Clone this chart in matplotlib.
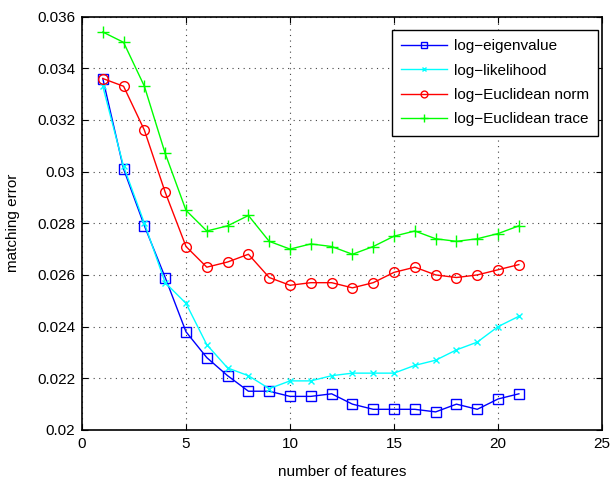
import matplotlib
matplotlib.use("Agg")
import matplotlib.pyplot as plt

plt.rcParams["font.family"] = ["Liberation Sans", "DejaVu Sans"]

n_features = list(range(1, 22))

log_eigenvalue = [0.0336, 0.0301, 0.0279, 0.0259, 0.0238, 0.0228, 0.0221, 0.0215,
                  0.0215, 0.0213, 0.0213, 0.0214, 0.0210, 0.0208, 0.0208, 0.0208,
                  0.0207, 0.0210, 0.0208, 0.0212, 0.0214]
log_likelihood = [0.0333, 0.0302, 0.0280, 0.0257, 0.0249, 0.0233, 0.0224, 0.0221,
                  0.0216, 0.0219, 0.0219, 0.0221, 0.0222, 0.0222, 0.0222, 0.0225,
                  0.0227, 0.0231, 0.0234, 0.0240, 0.0244]
log_eucl_norm = [0.0336, 0.0333, 0.0316, 0.0292, 0.0271, 0.0263, 0.0265, 0.0268,
                 0.0259, 0.0256, 0.0257, 0.0257, 0.0255, 0.0257, 0.0261, 0.0263,
                 0.0260, 0.0259, 0.0260, 0.0262, 0.0264]
log_eucl_trace = [0.0354, 0.0350, 0.0333, 0.0307, 0.0285, 0.0277, 0.0279, 0.0283,
                  0.0273, 0.0270, 0.0272, 0.0271, 0.0268, 0.0271, 0.0275, 0.0277,
                  0.0274, 0.0273, 0.0274, 0.0276, 0.0279]

y_ticks = [0.02, 0.022, 0.024, 0.026, 0.028, 0.03, 0.032, 0.034, 0.036]
y_tick_labels = ["0.02", "0.022", "0.024", "0.026", "0.028", "0.03", "0.032", "0.034", "0.036"]
x_ticks = [0, 5, 10, 15, 20, 25]

fig = plt.figure(figsize=(6.15, 4.84), dpi=100)
ax = fig.add_axes([0.1333, 0.1116, 0.8457, 0.8543])

ax.plot(n_features, log_eigenvalue, color="#0000ff", marker="s", ms=7, mfc="none",
        mew=1, lw=1, label="log\u2212eigenvalue")
ax.plot(n_features, log_likelihood, color="#00ffff", marker="x", ms=4, mew=1,
        lw=1, label="log\u2212likelihood")
ax.plot(n_features, log_eucl_norm, color="#ff0000", marker="o", ms=7, mfc="none",
        mew=1, lw=1, label="log\u2212Euclidean norm")
ax.plot(n_features, log_eucl_trace, color="#00ff00", marker="+", ms=8, mew=1,
        lw=1, label="log\u2212Euclidean trace")

ax.set_xlim(0, 25)
ax.set_ylim(0.02, 0.036)
ax.set_xticks(x_ticks)
ax.set_yticks(y_ticks)
ax.set_yticklabels(y_tick_labels)
ax.tick_params(direction="in", top=True, right=True, labelsize=11, length=4, pad=5)
ax.grid(True, linestyle=(0, (1, 4)), color="#444444", lw=0.8)
for s in ax.spines.values():
    s.set_linewidth(1.2)

ax.set_xlabel("number of features", fontsize=11, labelpad=10)
ax.set_ylabel("matching error", fontsize=11, labelpad=12)

leg = ax.legend(loc="upper right", bbox_to_anchor=(0.973, 0.938),
                bbox_transform=fig.transFigure, borderaxespad=0, fontsize=11,
                fancybox=False, framealpha=1, edgecolor="black", handlelength=3.0,
                handletextpad=0.45, borderpad=0.6, labelspacing=0.68,
                markerscale=0.7)
leg.get_frame().set_linewidth(1)

fig.savefig("out.png", dpi=100)
